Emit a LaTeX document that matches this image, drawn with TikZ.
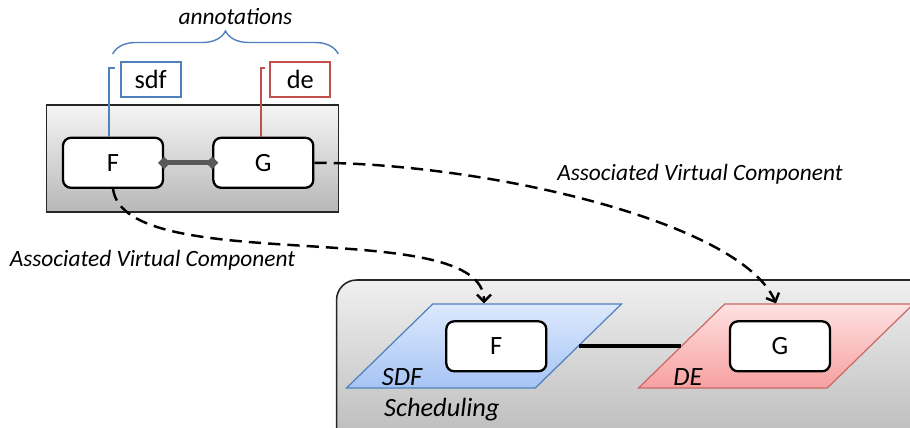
\documentclass[tikz,border=0pt]{standalone}
\usepackage{fontspec}
\setmainfont{Carlito}
\usetikzlibrary{arrows.meta,shapes.geometric,decorations.pathreplacing}
\definecolor{annoblue}{HTML}{4F81BD}
\definecolor{annored}{HTML}{C0504D}
\definecolor{linkgray}{HTML}{595959}
\definecolor{sdftop}{RGB}{221,233,253}
\definecolor{sdfbot}{RGB}{166,196,245}
\definecolor{detop}{RGB}{255,225,225}
\definecolor{debot}{RGB}{246,160,160}
\tikzset{
  frame/.style={draw=black!85, line width=0.9pt},
  blk/.style={draw=black, line width=1.3pt, fill=white, rounded corners=4.5pt,
    minimum width=2cm, minimum height=1cm, font=\fontsize{15}{17}\selectfont},
  ann/.style={line width=1.3pt, minimum width=1.2cm, minimum height=0.69cm,
    font=\fontsize{15}{17}\selectfont},
  par/.style={trapezium, trapezium left angle=50, trapezium right angle=130,
    trapezium stretches=true, minimum width=5.5cm, minimum height=1.68cm,
    inner sep=1pt, line width=0.7pt},
  lbl/.style={font=\fontsize{13.3}{15}\selectfont\itshape},
  biglbl/.style={font=\fontsize{15}{17}\selectfont\itshape},
  assoc/.style={dash pattern=on 7pt off 4pt, line width=1.4pt,
    -{Straight Barb[length=4pt,width=8pt]}},
}
\begin{document}
\begin{tikzpicture}[x=0.02cm, y=-0.02cm]
        \useasboundingbox (0,0) rectangle (910,428);
        % nodes
        \node[frame, top color=black!4, bottom color=black!28,
          minimum width=5.84cm, minimum height=2.14cm] (box) at (192.5,158.7) {};
        \node[blk] (f) at (113,162.8) {F};
        \node[blk] (g) at (263.3,162.8) {G};
        \node[ann, draw=annoblue] (sdf) at (150.7,79.5) {sdf};
        \node[ann, draw=annored] (de) at (300.3,79.5) {de};
        \coordinate (bl) at (112.7,54);
        \coordinate (br) at (338.3,54);
        \node[frame, rounded corners=0.4cm, top color=black!6, bottom color=black!30,
          minimum width=12.5cm, minimum height=3.8cm] (sched) at (649,375) {};
        \node[par, draw=annoblue, top color=sdftop, bottom color=sdfbot] (sdfpar) at (484,346) {};
        \node[par, draw=annored!85, top color=detop, bottom color=debot] (depar) at (776,346) {};
        \node[blk] (fv) at (496.3,346.3) {F};
        \node[blk] (gv) at (780,346.3) {G};
        % labels
        \node[lbl] (annot) at (235.5,17) {annotations};
        \node[lbl] (assocg) at (700,174) {Associated Virtual Component};
        \node[lbl] (assocf) at (152.5,260) {Associated Virtual Component};
        \node[biglbl] (sdflbl) at (402,377) {SDF};
        \node[biglbl] (delbl) at (688,377) {DE};
        \node[biglbl, anchor=west] (schedlbl) at (378,410) {Scheduling};
        % edges
        \draw[annoblue, line width=1pt] ([xshift=-0.074cm]f.north)
          |- ([shift={(-0.094cm,-0.14cm)}]sdf.north west);
        \draw[annored, line width=1pt] ([xshift=-0.052cm]g.north)
          |- ([shift={(-0.08cm,-0.14cm)}]de.north west);
        \draw[annoblue, line width=0.8pt, decorate,
          decoration={brace, amplitude=0.46cm}] (bl) -- (br);
        \draw[linkgray, line width=2.8pt, {Diamond[length=7pt,width=7pt]}-{Diamond[length=7pt,width=7pt]},
          shorten <=-3.5pt, shorten >=-3.5pt] (f.east) -- (g.west);
        \draw[line width=2.3pt] (sdfpar) -- (depar);
        \draw[assoc] (f.south) .. controls +(12,90) and +(0,-90) .. (sdfpar.north);
        \draw[assoc] (g.east) .. controls +(166,0) and +(-36,-83) .. (depar.north);
\end{tikzpicture}
\end{document}
